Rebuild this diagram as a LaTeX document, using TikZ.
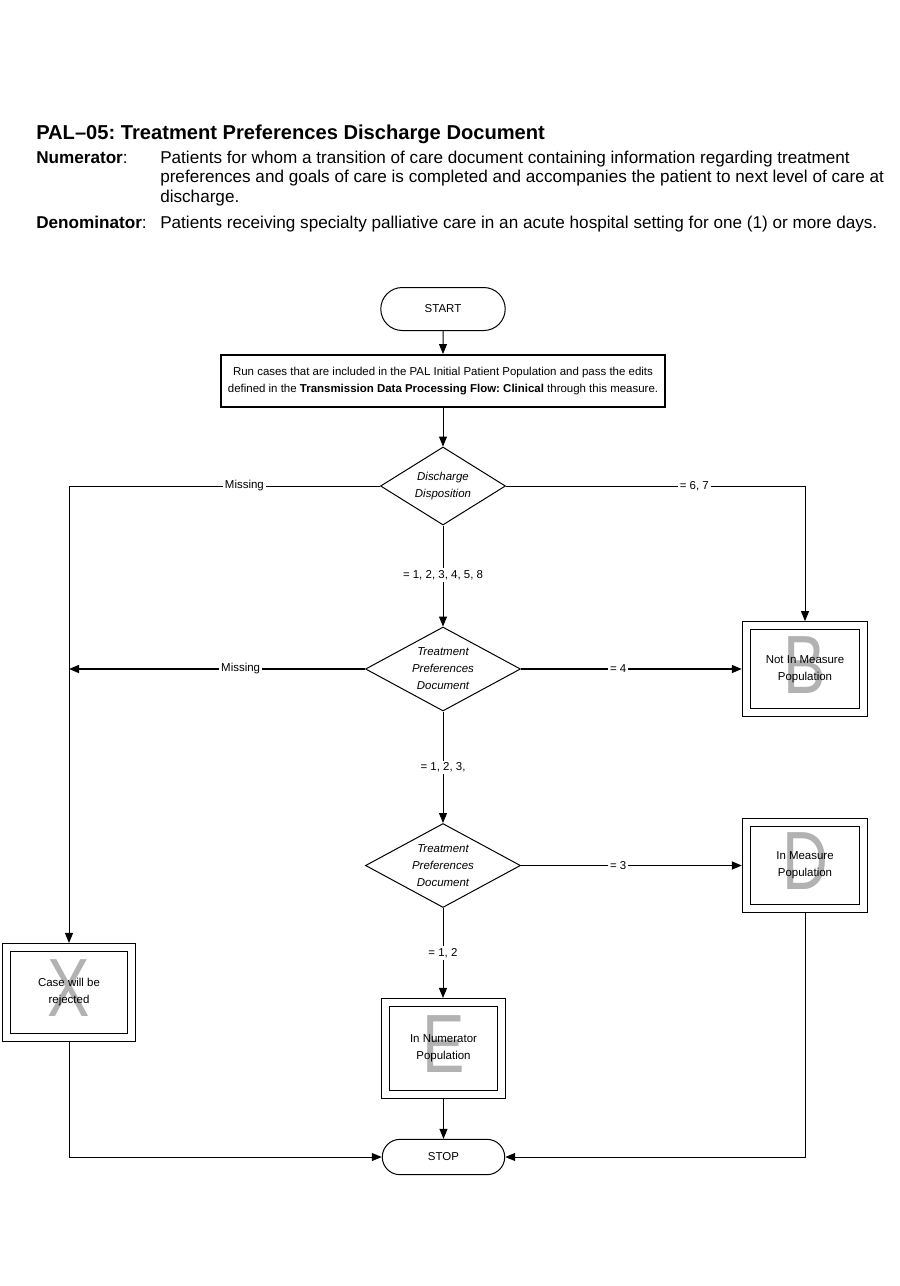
\documentclass[tikz,border=0pt]{standalone}
\usepackage{fontspec}
\setmainfont{Liberation Sans}
\newfontfamily\letterfont{Liberation Sans}[FakeStretch=0.77]
\usetikzlibrary{arrows.meta,shapes.geometric,shapes.misc,positioning}
\definecolor{lettergray}{RGB}{178,178,178}
\newcommand{\flowsize}{\fontsize{8.6}{12.75}\selectfont}
\newcommand{\headsize}{\fontsize{12.85}{14.6}\selectfont}

\begin{document}
\frenchspacing
\begin{tikzpicture}[x=0.75pt,y=-0.75pt,
		every node/.style={font=\flowsize},
		arr/.style={-{Triangle[length=7.5pt,width=6pt]}, line width=0.75pt},
		thickarr/.style={arr, line width=1.1pt},
		terminal/.style={draw, rounded rectangle, line width=0.75pt, minimum width=100pt, minimum height=32.25pt},
		decision/.style={draw, diamond, aspect=1.6, inner sep=0pt, line width=0.75pt, font=\flowsize\itshape, align=center},
		endbox/.style={draw, double, double distance=5.25pt, line width=0.75pt, outer sep=3.4pt, fill=white, align=center,
			path picture={\node[text=lettergray, font=\letterfont\fontsize{62}{62}\selectfont, inner sep=0pt, yshift=3pt] at (path picture bounding box.center) {#1};}},
		lbl/.style={fill=white, inner sep=1.5pt},
	]
	\useasboundingbox (0,0) rectangle (900,1286);

	% heading
	\node[anchor=base west, inner sep=0pt, font=\bfseries\fontsize{15.1}{18}\selectfont] (title) at (36,139.5) {PAL–05: Treatment Preferences Discharge Document};
	\node[anchor=base west, inner sep=0pt, font=\headsize] (numlab) at (36,163) {\textbf{Numerator}:};
	\node[anchor=north west, inner sep=0pt, align=left, font=\headsize] (numtext) at (160,150.5) {Patients for whom a transition of care document containing information regarding treatment\\preferences and goals of care is completed and accompanies the patient to next level of care at\\discharge.};
	\node[anchor=base west, inner sep=0pt, font=\headsize] (denlab) at (36,228) {\textbf{Denominator}:};
	\node[anchor=base west, inner sep=0pt, font=\headsize] (dentext) at (160,228) {Patients receiving specialty palliative care in an acute hospital setting for one (1) or more days.};

	% flow
	\node[terminal] (start) at (443,309) {START};
	\node[draw, line width=1.5pt, minimum width=333pt, minimum height=39pt, align=center] (run) at (443,381) {Run cases that are included in the PAL Initial Patient Population and pass the edits\\defined in the \textbf{Transmission Data Processing Flow: Clinical} through this measure.};
	\node[decision, minimum width=93.75pt, minimum height=58.5pt] (disp) at (443,486) {Discharge\\Disposition};
	\node[decision, aspect=1.85, minimum width=116.25pt, minimum height=63pt] (pref1) at (443,669) {Treatment\\Preferences\\Document};
	\node[decision, aspect=1.85, minimum width=116.25pt, minimum height=63pt] (pref2) at (443,865.5) {Treatment\\Preferences\\Document};
	\node[endbox=B, minimum width=88pt, minimum height=65pt] (notin) at (805,669) {Not In Measure\\Population};
	\node[endbox=D, minimum width=88pt, minimum height=65pt] (inmeas) at (805,865.5) {In Measure\\Population};
	\node[endbox=X, minimum width=94pt, minimum height=67.5pt] (reject) at (69,992.5) {Case will be\\rejected};
	\node[endbox=E, minimum width=87pt, minimum height=69pt] (numer) at (443.5,1048.5) {In Numerator\\Population};
	\node[terminal, minimum width=98.5pt, minimum height=26.5pt] (stop) at (443.5,1157) {STOP};

	% connectors
	\draw[arr] (start) -- (run);
	\draw[arr] (run) -- (disp);
	\draw[arr] (disp.west) -- node[lbl, pos=0.436] {Missing} (disp.west -| reject.north) -- (reject.north);
	\draw[arr] (disp.east) -- node[lbl, pos=0.63] {= 6, 7} (disp.east -| notin.north) -- (notin.north);
	\draw[arr] (disp.south) -- node[lbl, pos=0.49] {= 1, 2, 3, 4, 5, 8} (pref1.north);
	\draw[thickarr] (pref1.west) -- node[lbl, pos=0.42] {Missing} (pref1.west -| reject.north);
	\draw[thickarr] (pref1.east) -- node[lbl, pos=0.44] {= 4} (notin.west);
	\draw[arr] (pref1.south) -- node[lbl, pos=0.5] {= 1, 2, 3,} (pref2.north);
	\draw[thickarr] (pref2.east) -- node[lbl, pos=0.44] {= 3} (inmeas.west);
	\draw[arr] (pref2.south) -- node[lbl, pos=0.5] {= 1, 2} (pref2.south |- numer.north);
	\draw[arr] (numer.south) -- (stop.north);
	\draw[arr] (reject.south) -- (reject.south |- stop.west) -- (stop.west);
	\draw[arr] (inmeas.south) -- (inmeas.south |- stop.east) -- (stop.east);
\end{tikzpicture}
\end{document}
